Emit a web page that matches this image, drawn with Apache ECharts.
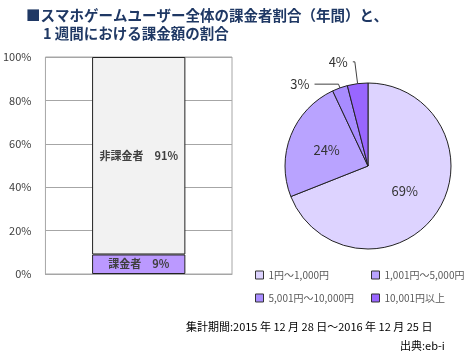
<!DOCTYPE html>
<html><head><meta charset="utf-8">
<script src="https://cdn.jsdelivr.net/npm/echarts@6/dist/echarts.min.js"></script>
<style>html,body{margin:0;padding:0;background:#fff}#c{width:471px;height:356px}</style>
</head><body><div id="c"></div>
<script>
const titleLines = ['■スマホゲームユーザー全体の課金者割合（年間）と、', '1 週間における課金額の割合'];
const barCategories = ['全体'];
const payerNames = ['課金者', '非課金者'];
const payerValues = [9, 91];
const yTicks = [0, 20, 40, 60, 80, 100];
const pieNames = ['1円～1,000円', '1,001円～5,000円', '5,001円～10,000円', '10,001円以上'];
const pieValues = [69, 24, 3, 4];
const footer1 = '集計期間:2015 年 12 月 28 日～2016 年 12 月 25 日';
const footer2 = '出典:eb-i';

const pieColors = ['#ddd3ff', '#b9a3ff', '#a88cff', '#9966ff'];
const font = '"Noto Sans CJK JP", "Noto Sans", sans-serif';

const chart = echarts.init(document.getElementById('c'));
chart.setOption({
  animation: false,
  textStyle: { fontFamily: font },
  title: [
    { text: titleLines[0], left: 21, top: 3, textStyle: { fontSize: 14.5, fontWeight: 'bold', color: '#1f3864', fontFamily: font } },
    { text: titleLines[1], left: 38, top: 21, textStyle: { fontSize: 14.5, fontWeight: 'bold', color: '#1f3864', fontFamily: font } },
    { text: footer1, left: 181, top: 316, textStyle: { fontSize: 11, fontWeight: 'normal', color: '#000', fontFamily: font } },
    { text: footer2, left: 395, top: 335, textStyle: { fontSize: 11, fontWeight: 'normal', color: '#000', fontFamily: font } }
  ],
  grid: { left: 44, top: 57, width: 188, height: 217, show: true, borderColor: '#a6a6a6', borderWidth: 1 },
  xAxis: { type: 'category', data: barCategories, axisLine: { show: true, lineStyle: { color: '#a6a6a6' } }, axisTick: { show: false }, axisLabel: { show: false } },
  yAxis: {
    type: 'value', min: yTicks[0], max: yTicks[yTicks.length - 1], interval: 20,
    axisLine: { show: false }, axisTick: { show: false },
    axisLabel: { formatter: '{value}%', color: '#404040', fontSize: 11, margin: 14 },
    splitLine: { lineStyle: { color: '#a6a6a6' } }
  },
  series: [
    {
      type: 'bar', name: payerNames[0], stack: 's', data: [payerValues[0]], barWidth: '50%',
      itemStyle: { color: '#bb99ff', borderColor: '#222', borderWidth: 1 },
      label: { show: true, position: 'inside', formatter: payerNames[0] + '　' + payerValues[0] + '%', color: '#404040', fontSize: 11, fontWeight: 'bold' }
    },
    {
      type: 'bar', name: payerNames[1], stack: 's', data: [payerValues[1]], barWidth: '50%',
      itemStyle: { color: '#f2f2f2', borderColor: '#222', borderWidth: 1 },
      label: { show: true, position: 'inside', formatter: payerNames[1] + '　' + payerValues[1] + '%', color: '#404040', fontSize: 11, fontWeight: 'bold' }
    },
    {
      type: 'pie', center: [368, 166], radius: 83, startAngle: 90, clockwise: true,
      itemStyle: { borderColor: '#222', borderWidth: 1 },
      label: { formatter: '{c}%', fontSize: 13, color: '#333' },
      labelLine: { lineStyle: { color: '#404040', width: 1 } },
      data: pieNames.map((n, i) => {
        const d = { name: n, value: pieValues[i], itemStyle: { color: pieColors[i] } };
        if (i < 2) {
          d.label = { position: 'inside' };
        } else if (i === 2) {
          d.label = { position: 'outside' };
          d.labelLine = { show: true, length: 4, length2: 24 };
        } else {
          d.label = { position: 'outside' };
          d.labelLine = { show: true, length: 22, length2: 2 };
        }
        return d;
      })
    }
  ],
  legend: [
    { data: [pieNames[0], pieNames[2]], orient: 'vertical', left: 250, top: 265, itemWidth: 8, itemHeight: 8, itemGap: 13,
      icon: 'rect', itemStyle: { borderColor: '#333', borderWidth: 1 }, textStyle: { fontSize: 10, color: '#595959' } },
    { data: [pieNames[1], pieNames[3]], orient: 'vertical', left: 366, top: 265, itemWidth: 8, itemHeight: 8, itemGap: 13,
      icon: 'rect', itemStyle: { borderColor: '#333', borderWidth: 1 }, textStyle: { fontSize: 10, color: '#595959' } }
  ]
});
</script>
</body></html>
